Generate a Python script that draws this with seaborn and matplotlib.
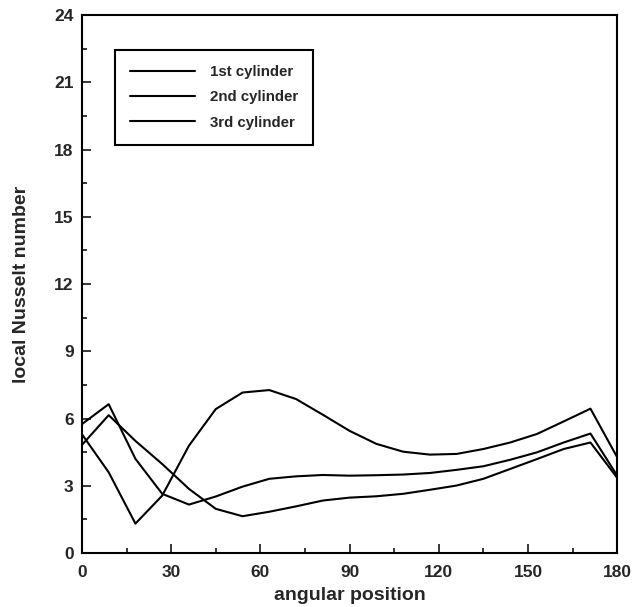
import pandas as pd
import seaborn as sns
import matplotlib.pyplot as plt
from matplotlib.ticker import MultipleLocator

angle = [0, 9, 18, 27, 36, 45, 54, 63, 72, 81, 90, 99, 108, 117, 126, 135, 144, 153, 162, 171, 180]
first = [5.75, 6.64, 4.2, 2.64, 2.16, 2.52, 2.96, 3.31, 3.42, 3.48, 3.45, 3.47, 3.5, 3.57, 3.71, 3.87, 4.16, 4.49, 4.93, 5.33, 3.45]
second = [4.82, 6.15, 5.0, 3.97, 2.86, 1.97, 1.64, 1.84, 2.08, 2.34, 2.47, 2.53, 2.64, 2.82, 3.01, 3.31, 3.75, 4.19, 4.64, 4.93, 3.35]
third = [5.3, 3.6, 1.31, 2.56, 4.79, 6.42, 7.16, 7.27, 6.87, 6.17, 5.45, 4.87, 4.52, 4.39, 4.42, 4.64, 4.93, 5.31, 5.87, 6.44, 4.27]
labels = ['1st cylinder', '2nd cylinder', '3rd cylinder']

df = pd.DataFrame({
    'angle': angle * 3,
    'Nu': first + second + third,
    'cylinder': [labels[0]] * len(angle) + [labels[1]] * len(angle) + [labels[2]] * len(angle),
})

sns.set_style('ticks')
plt.rcParams['font.family'] = ['Liberation Sans', 'DejaVu Sans']
plt.rcParams['font.weight'] = 'bold'

fig = plt.figure(figsize=(6.35, 6.07), dpi=100)
ax = fig.add_axes([0.129, 0.089, 0.843, 0.886])

sns.lineplot(data=df, x='angle', y='Nu', hue='cylinder', palette=['black'] * 3,
             linewidth=1.5, ax=ax)

ax.set_xlim(0, 180)
ax.set_ylim(0, 24)
ax.xaxis.set_major_locator(MultipleLocator(30))
ax.xaxis.set_minor_locator(MultipleLocator(15))
ax.yaxis.set_major_locator(MultipleLocator(3))
ax.yaxis.set_minor_locator(MultipleLocator(1.5))
ax.tick_params(which='major', direction='in', length=6.5, width=1.3, labelsize=12.5)
ax.tick_params(axis='x', which='major', pad=9)
ax.tick_params(axis='y', which='major', pad=6)
ax.tick_params(which='minor', direction='in', length=3.6, width=1.3)
for s in ax.spines.values():
    s.set_linewidth(1.5)
    s.set_color('black')
for t in ax.get_xticklabels() + ax.get_yticklabels():
    t.set_fontweight('bold')

ax.set_xlabel('angular position', fontsize=14, fontweight='bold', labelpad=5)
ax.set_ylabel('local Nusselt number', fontsize=14, fontweight='bold', labelpad=17)

leg = ax.legend(loc='upper left', bbox_to_anchor=(0.062, 0.935), borderaxespad=0,
                handlelength=4.3, handletextpad=1.0, labelspacing=0.75, borderpad=1.0,
                fancybox=False, framealpha=1, edgecolor='black',
                prop={'weight': 'bold', 'size': 10.8})
leg.get_frame().set_linewidth(1.5)
for h in leg.get_lines():
    h.set_linewidth(1.5)

fig.savefig('out.png', dpi=100)
